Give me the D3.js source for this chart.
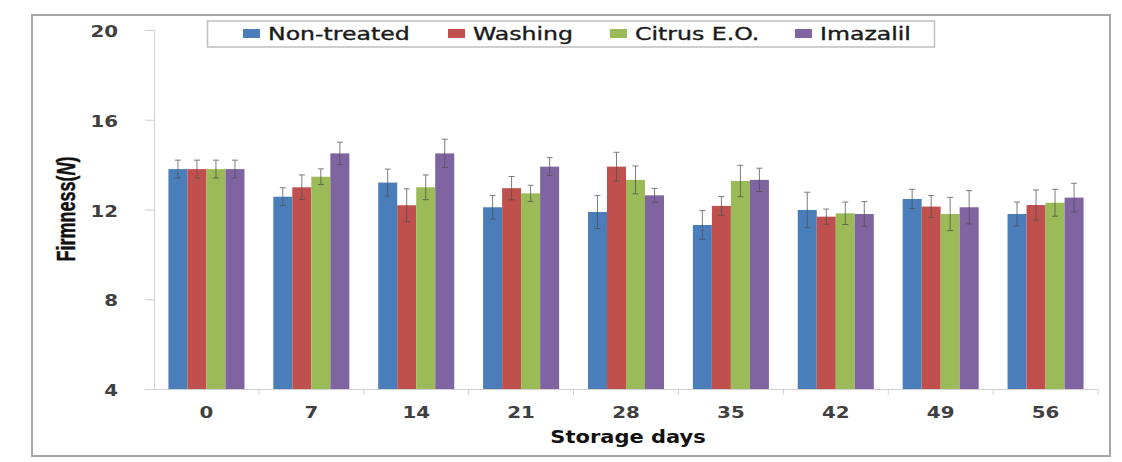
<!DOCTYPE html>
<html>
<head>
<meta charset="utf-8">
<script src="https://cdn.jsdelivr.net/npm/d3@7"></script>
<style>
  html, body { margin: 0; padding: 0; background: #fff; }
  svg { display: block; }
</style>
</head>
<body>
<svg id="chart" width="1122" height="462"></svg>
<script>
// ---- Data ----
const categories = ["0", "7", "14", "21", "28", "35", "42", "49", "56"];
const seriesNames = ["Non-treated", "Washing", "Citrus E.O.", "Imazalil"];
const nonTreated = [13.80, 12.57, 13.20, 12.10, 11.89, 11.31, 11.98, 12.47, 11.80];
const washing    = [13.80, 12.99, 12.19, 12.95, 13.91, 12.16, 11.68, 12.13, 12.20];
const citrusEO   = [13.80, 13.46, 12.99, 12.72, 13.32, 13.27, 11.83, 11.80, 12.30];
const imazalil   = [13.80, 14.50, 14.50, 13.91, 12.63, 13.32, 11.80, 12.10, 12.53];
const errNonTreated = [0.40, 0.40, 0.60, 0.53, 0.74, 0.64, 0.79, 0.43, 0.53];
const errWashing    = [0.40, 0.55, 0.73, 0.52, 0.64, 0.42, 0.34, 0.49, 0.67];
const errCitrusEO   = [0.40, 0.35, 0.55, 0.36, 0.62, 0.70, 0.50, 0.74, 0.60];
const errImazalil   = [0.40, 0.50, 0.63, 0.40, 0.31, 0.52, 0.55, 0.74, 0.64];
const yTicks = [4, 8, 12, 16, 20];
const colors = ["#4a7ebb", "#c0504d", "#9bbb59", "#8064a2"];

const seriesValues = [nonTreated, washing, citrusEO, imazalil];
const seriesErrors = [errNonTreated, errWashing, errCitrusEO, errImazalil];

const rows = [];
categories.forEach((c, i) => {
  seriesNames.forEach((s, j) => {
    rows.push({ cat: c, series: s, idx: j, value: seriesValues[j][i], err: seriesErrors[j][i] });
  });
});

// ---- Layout ----
const svg = d3.select("#chart");
const plot = { left: 154, right: 1098, top: 30, bottom: 389 };
const SX = 1.24;  // horizontal stretch of the reference's text

const x = d3.scaleBand().domain(categories).range([plot.left, plot.right])
  .paddingInner(0.275).paddingOuter(0.1375);
const xs = d3.scaleBand().domain(seriesNames).range([0, x.bandwidth()]);
const y = d3.scaleLinear().domain([4, 20]).range([plot.bottom, plot.top]);

// Outer frame
svg.append("rect").attr("x", 32).attr("y", 15).attr("width", 1078).attr("height", 441)
  .attr("fill", "#fff").attr("stroke", "#a6a6a6").attr("stroke-width", 2);

// Y axis
const yAxis = svg.append("g").attr("transform", `translate(${plot.left},0)`)
  .call(d3.axisLeft(y).tickValues(yTicks).tickSize(9).tickFormat(d3.format("d")));
yAxis.select(".domain").attr("stroke", "#d0d0d0");
yAxis.selectAll(".tick line").attr("stroke", "#d0d0d0");
yAxis.selectAll(".tick text")
  .attr("x", 0).attr("dy", null)
  .attr("transform", `translate(-36,6.5) scale(${SX},1)`)
  .attr("text-anchor", "end")
  .attr("fill", "#404040")
  .style("font-family", "'DejaVu Sans', Verdana, sans-serif")
  .style("font-weight", "bold")
  .style("font-size", "16px");

// X axis line and separators
const xg = svg.append("g");
xg.append("line").attr("x1", plot.left).attr("x2", plot.right)
  .attr("y1", plot.bottom + 0.5).attr("y2", plot.bottom + 0.5)
  .attr("stroke", "#d0d0d0");
const halfGap = x.step() * x.paddingInner() / 2;
const boundaries = categories.slice(1).map(c => x(c) - halfGap).concat([plot.right]);
xg.selectAll("line.sep").data(boundaries).join("line").attr("class", "sep")
  .attr("x1", d => d).attr("x2", d => d)
  .attr("y1", plot.bottom).attr("y2", plot.bottom + 6)
  .attr("stroke", "#d0d0d0");
xg.selectAll("text.xt").data(categories).join("text").attr("class", "xt")
  .attr("transform", d => `translate(${x(d) + x.bandwidth() / 2},418) scale(${SX},1)`)
  .attr("text-anchor", "middle")
  .attr("fill", "#404040")
  .style("font-family", "'DejaVu Sans', Verdana, sans-serif")
  .style("font-weight", "bold")
  .style("font-size", "16px")
  .text(d => d);

// Bars
svg.append("g").selectAll("rect").data(rows).join("rect")
  .attr("x", d => x(d.cat) + xs(d.series))
  .attr("y", d => y(d.value))
  .attr("width", xs.bandwidth())
  .attr("height", d => y(4) - y(d.value))
  .attr("fill", d => colors[d.idx]);

// Error bars
const eb = svg.append("g").attr("stroke", "#505050").attr("stroke-width", 1).attr("opacity", 0.75);
const cx = d => x(d.cat) + xs(d.series) + xs.bandwidth() / 2;
eb.selectAll("line.v").data(rows).join("line").attr("class", "v")
  .attr("x1", cx).attr("x2", cx)
  .attr("y1", d => y(d.value + d.err)).attr("y2", d => y(d.value - d.err));
eb.selectAll("line.t").data(rows).join("line").attr("class", "t")
  .attr("x1", d => cx(d) - 3).attr("x2", d => cx(d) + 3)
  .attr("y1", d => y(d.value + d.err)).attr("y2", d => y(d.value + d.err));
eb.selectAll("line.b").data(rows).join("line").attr("class", "b")
  .attr("x1", d => cx(d) - 3).attr("x2", d => cx(d) + 3)
  .attr("y1", d => y(d.value - d.err)).attr("y2", d => y(d.value - d.err));

// Axis titles
svg.append("text")
  .attr("transform", `translate(${(plot.left + plot.right) / 2 + 2},443) scale(1.2,1)`)
  .attr("text-anchor", "middle")
  .attr("fill", "#111")
  .style("font-family", "'DejaVu Sans', Verdana, sans-serif")
  .style("font-weight", "bold")
  .style("font-size", "17.5px")
  .text("Storage days");

const yTitle = svg.append("text")
  .attr("transform", "translate(75,209) scale(1.45,1) rotate(-90)")
  .attr("text-anchor", "middle")
  .attr("fill", "#111")
  .attr("stroke", "#111").attr("stroke-width", 0.3)
  .style("font-family", "'Liberation Sans Narrow', 'Arial Narrow', 'Liberation Sans', sans-serif")
  .style("font-weight", "bold")
  .style("font-size", "18px");
yTitle.append("tspan").text("Firmness(");
yTitle.append("tspan").style("font-style", "italic").text("N");
yTitle.append("tspan").text(")");

// Legend
const legendX = [243, 448, 610, 795];
const lg = svg.append("g");
lg.append("rect").attr("x", 207.5).attr("y", 21).attr("width", 727).attr("height", 26)
  .attr("fill", "#fff").attr("stroke", "#bfbfbf").attr("stroke-width", 1.5);
const items = lg.selectAll("g.item").data(seriesNames).join("g").attr("class", "item")
  .attr("transform", (d, i) => `translate(${legendX[i]},0)`);
items.append("rect").attr("x", 0).attr("y", 29).attr("width", 17).attr("height", 9)
  .attr("fill", (d, i) => colors[i]);
items.append("text")
  .attr("transform", `translate(25,40) scale(1.35,1)`)
  .attr("fill", "#1a1a1a")
  .attr("stroke", "#1a1a1a").attr("stroke-width", 0.35)
  .style("font-family", "'DejaVu Sans', Verdana, sans-serif")
  .style("font-size", "17.5px")
  .text(d => d);
</script>
</body>
</html>
